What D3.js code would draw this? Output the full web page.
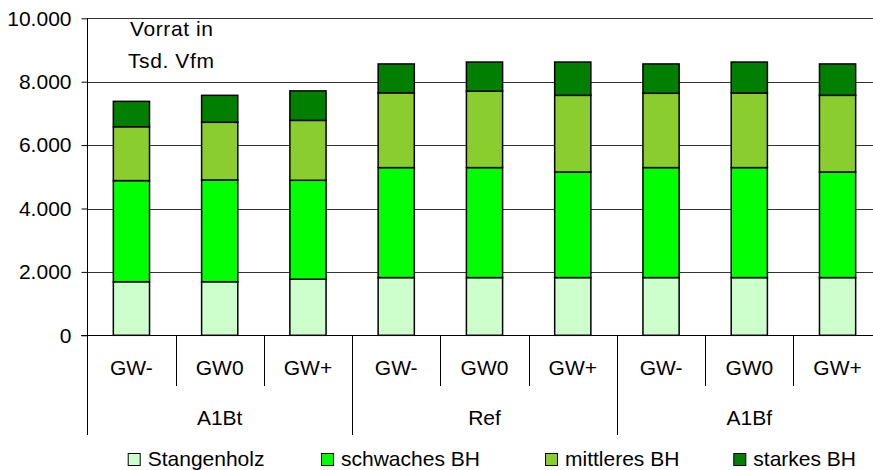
<!DOCTYPE html>
<html>
<head>
<meta charset="utf-8">
<script src="https://cdn.jsdelivr.net/npm/d3@7"></script>
<style>
  body { margin: 0; background: #fff; }
  svg { display: block; font-family: "Liberation Sans", Arial, sans-serif; }
</style>
</head>
<body>
<div id="chart"></div>
<script>
// categories
const groups = ["A1Bt", "Ref", "A1Bf"];
const scenarios = ["GW-", "GW0", "GW+"];
const seriesNames = ["Stangenholz", "schwaches BH", "mittleres BH", "starkes BH"];
const seriesColors = ["#ccffcc", "#00ff00", "#8acd2e", "#007f00"];

// values (Tsd. Vfm), one per bar in order A1Bt GW-,GW0,GW+, Ref ..., A1Bf ...
const stangenholz = [1690, 1690, 1770, 1820, 1820, 1820, 1820, 1820, 1820];
const schwachesBH = [3190, 3210, 3120, 3470, 3470, 3330, 3470, 3470, 3330];
const mittleresBH = [1700, 1820, 1890, 2360, 2410, 2420, 2345, 2355, 2420];
const starkesBH   = [800, 850, 930, 910, 920, 1050, 925, 975, 990];

const yTicks = [0, 2000, 4000, 6000, 8000, 10000];

const W = 873, H = 470;
const margin = { top: 18.3, left: 87.3 };
const plotW = 794.4, plotH = 317;
const fs = 21;

// build table
const keys = ["s0", "s1", "s2", "s3"];
const table = [];
groups.forEach((g, gi) => {
  scenarios.forEach((s, si) => {
    const i = gi * 3 + si;
    table.push({ id: g + "|" + s, group: g, scen: s,
      s0: stangenholz[i], s1: schwachesBH[i], s2: mittleresBH[i], s3: starkesBH[i] });
  });
});

const svg = d3.select("#chart").append("svg")
  .attr("width", W).attr("height", H)
  .style("overflow", "hidden");

const x = d3.scaleBand()
  .domain(table.map(d => d.id))
  .range([margin.left, margin.left + plotW])
  .padding(0);

const y = d3.scaleLinear()
  .domain([0, 10000])
  .range([margin.top + plotH, margin.top]);

const fmt = d3.formatLocale({ decimal: ",", thousands: ".", grouping: [3], currency: ["", ""] }).format(",.0f");

// gridlines
svg.append("g").selectAll("line")
  .data(yTicks.filter(d => d > 0))
  .join("line")
  .attr("x1", margin.left).attr("x2", W)
  .attr("y1", d => Math.round(y(d)) + 0.5).attr("y2", d => Math.round(y(d)) + 0.5)
  .attr("stroke", "#333").attr("stroke-width", 1);

// y axis
const yAxis = d3.axisLeft(y).tickValues(yTicks).tickSize(6).tickPadding(10).tickFormat(fmt);
const gy = svg.append("g")
  .attr("transform", "translate(" + (Math.round(margin.left) + 0.5) + ",0)")
  .call(yAxis);
gy.select(".domain").attr("stroke", "#000").attr("d", "M0," + y(10000) + "V" + y(0));
gy.selectAll(".tick line").attr("stroke", "#000");
gy.selectAll(".tick text").attr("font-size", fs).attr("fill", "#000")
  .attr("font-family", "Liberation Sans, Arial, sans-serif");

// stacked bars
const stack = d3.stack().keys(keys)(table);
const barW = x.bandwidth() * 0.41;

svg.append("g").selectAll("g")
  .data(stack)
  .join("g")
  .attr("fill", (d, i) => seriesColors[i])
  .selectAll("rect")
  .data(d => d)
  .join("rect")
  .attr("x", d => x(d.data.id) + (x.bandwidth() - barW) / 2)
  .attr("width", barW)
  .attr("y", d => y(d[1]))
  .attr("height", d => y(d[0]) - y(d[1]))
  .attr("stroke", "#000")
  .attr("stroke-width", 1.5);

// x axis baseline
const base = Math.round(y(0)) + 0.5;
svg.append("line")
  .attr("x1", margin.left - 6).attr("x2", W)
  .attr("y1", base).attr("y2", base)
  .attr("stroke", "#000");

// category separators
const xAxisG = svg.append("g");
table.forEach((d, i) => {
  const xb = Math.round(x(d.id)) + 0.5;
  const isGroupStart = i % 3 === 0;
  xAxisG.append("line")
    .attr("x1", xb).attr("x2", xb)
    .attr("y1", base).attr("y2", isGroupStart ? 435 : 386)
    .attr("stroke", "#000");
  xAxisG.append("text")
    .attr("x", x(d.id) + x.bandwidth() / 2)
    .attr("y", 375)
    .attr("text-anchor", "middle")
    .attr("font-size", fs)
    .text(d.scen);
});
const lastX = Math.round(margin.left + plotW) + 0.5;
xAxisG.append("line").attr("x1", lastX).attr("x2", lastX)
  .attr("y1", base).attr("y2", 435).attr("stroke", "#000");

groups.forEach(g => {
  const first = x(g + "|" + scenarios[0]);
  const last = x(g + "|" + scenarios[2]) + x.bandwidth();
  xAxisG.append("text")
    .attr("x", (first + last) / 2)
    .attr("y", 425)
    .attr("text-anchor", "middle")
    .attr("font-size", fs)
    .text(g);
});

// unit label
svg.append("text").attr("x", 130).attr("y", 36).attr("font-size", fs)
  .attr("letter-spacing", 0.6).text("Vorrat in");
svg.append("text").attr("x", 128).attr("y", 68).attr("font-size", fs)
  .attr("letter-spacing", 0.6).text("Tsd. Vfm");

// legend
const legendX = [127.7, 321, 545, 733.3];
const leg = svg.append("g").selectAll("g")
  .data(seriesNames)
  .join("g")
  .attr("transform", (d, i) => "translate(" + legendX[i] + ",453)");
leg.append("rect")
  .attr("x", 0.5).attr("y", 0.5)
  .attr("width", 12).attr("height", 12)
  .attr("fill", (d, i) => seriesColors[i])
  .attr("stroke", "#000");
leg.append("text")
  .attr("x", 20).attr("y", 13)
  .attr("font-size", fs)
  .text(d => d);
</script>
</body>
</html>
